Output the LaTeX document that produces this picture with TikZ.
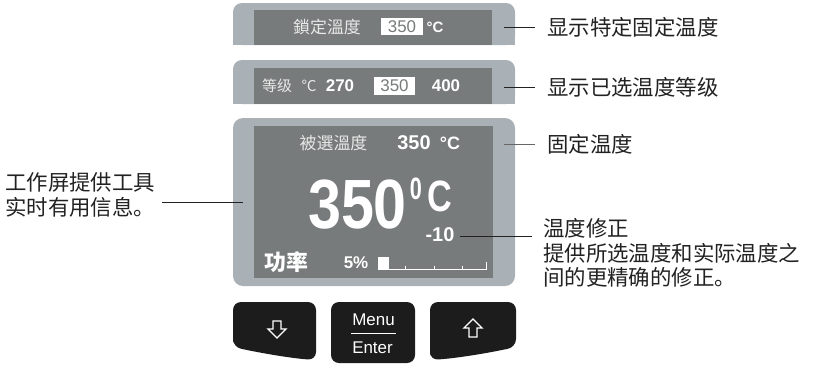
\documentclass[tikz,border=0pt]{standalone}
\usepackage{fontspec}
\setmainfont{Liberation Sans}
\newfontfamily\cjk{Noto Sans CJK SC}
\newfontfamily\arial{Liberation Sans}
\definecolor{outerc}{HTML}{A9B0B6}
\definecolor{innerc}{HTML}{787B7B}
\definecolor{btnc}{HTML}{1C1C1C}
\definecolor{lcdtxt}{HTML}{E8E8E8}
\definecolor{inkc}{HTML}{222222}
\begin{document}
\begin{tikzpicture}[x=1bp,y=-1bp,
  callout/.style={font=\cjk\fontsize{21.5}{24.5}\selectfont, text=inkc, inner sep=0pt, align=left},
  lead/.style={draw=inkc, line width=0.9bp},
  lcdcjk/.style={text=lcdtxt, inner sep=0pt},
  lcdnum/.style={text=white, inner sep=0pt},
  selbox/.style={fill=white, text=innerc, inner sep=0pt, font=\arial\fontsize{17}{17}\selectfont},
  btnlabel/.style={text=white, inner sep=0pt, font=\arial\fontsize{17}{17}\selectfont},
  arrowglyph/.style={draw=white, line width=1.3bp, line join=miter}]
\useasboundingbox (0,0) rectangle (816,364);

% ---- panel 1
\fill[outerc, rounded corners=9bp] (233,3) rectangle (515,45);
\fill[outerc] (233,25) rectangle (515,45);
\fill[innerc] (254,10) rectangle (492,45);
\node[lcdcjk, font=\cjk\fontsize{17}{17}\selectfont] (p1a) at (327,27) {鎖定溫度};
\node[selbox, minimum width=42bp, minimum height=17bp] (p1b) at (402,26.5) {350};
\node[lcdnum, font=\arial\bfseries\fontsize{15}{15}\selectfont] (p1c) at (435,27) {°C};

% ---- panel 2
\fill[outerc, rounded corners=9bp] (233,60) rectangle (515,104);
\fill[outerc] (233,82) rectangle (515,104);
\fill[innerc] (254,68) rectangle (492,104);
\node[lcdcjk, font=\cjk\fontsize{15}{15}\selectfont] (p2a) at (277,86) {等级};
\node[lcdcjk, font=\cjk\fontsize{15}{15}\selectfont] (p2b) at (309,86) {℃};
\node[lcdnum, font=\arial\bfseries\fontsize{17}{17}\selectfont] (p2c) at (340,86) {270};
\node[selbox, minimum width=41bp, minimum height=18bp] (p2d) at (394.5,86) {350};
\node[lcdnum, font=\arial\bfseries\fontsize{17}{17}\selectfont] (p2e) at (446,86) {400};

% ---- panel 3
\fill[outerc, rounded corners=10bp] (233,118) rectangle (515,286);
\fill[innerc] (254,126) rectangle (493,278);
\node[lcdcjk, font=\cjk\fontsize{17}{17}\selectfont] (p3a) at (333.5,143) {被選溫度};
\node[lcdnum, font=\arial\bfseries\fontsize{20}{20}\selectfont] (p3b) at (414,143) {350};
\node[lcdnum, font=\arial\bfseries\fontsize{18}{18}\selectfont] (p3c) at (450,143) {°C};
\node[lcdnum, font=\arial\bfseries\fontsize{70}{70}\selectfont] (big) at (357.5,205) {\scalebox{0.85}[1]{350}};
\node[lcdnum, font=\arial\bfseries\fontsize{31}{31}\selectfont] (deg) at (416,189) {\scalebox{0.7}[1]{0}};
\node[lcdnum, font=\arial\bfseries\fontsize{44}{44}\selectfont] (cel) at (439.5,196) {\scalebox{0.78}[1]{C}};
\node[lcdnum, font=\arial\bfseries\fontsize{20}{20}\selectfont] (corr) at (440,235) {-10};
\node[lcdnum, font=\cjk\bfseries\fontsize{22}{22}\selectfont] (pw) at (286,262) {功率};
\node[lcdnum, font=\arial\bfseries\fontsize{17}{17}\selectfont] (pct) at (356,263) {5\%};
\fill[white] (378,257) rectangle (389,270);
\draw[white, line width=1bp] (389,269.5) -- (487,269.5);
\foreach \tx in {405,434,462} \draw[white, line width=1bp] (\tx,266) -- (\tx,269.5);
\draw[white, line width=1bp] (486.5,262) -- (486.5,270);

% ---- buttons
\fill[btnc, rounded corners=8bp] (233,347) -- (233,302) -- (316,302) -- (316,360) .. controls (288,358) and (256,352) .. (233,347) -- cycle;
\fill[btnc, rounded corners=8bp] (331,302) rectangle (415,363);
\fill[btnc, rounded corners=8bp] (430,360) -- (430,302) -- (516,302) -- (516,347) .. controls (493,352) and (460,358) .. (430,360) -- cycle;
\draw[arrowglyph] (273,321) -- (281,321) -- (281,329) -- (286,329) -- (277,338) -- (268,329) -- (273,329) -- cycle;
\draw[arrowglyph] (469,337) -- (477,337) -- (477,328) -- (482,328) -- (473,319) -- (464,328) -- (469,328) -- cycle;
\node[btnlabel] (menu) at (373.5,320) {Menu};
\node[btnlabel] (enter) at (372.5,348) {Enter};
\draw[white, line width=1bp] (351,333) -- (396,333);

% ---- callouts
\node[callout, anchor=west] (c1) at (547,27) {显示特定固定温度};
\node[callout, anchor=west] (c2) at (547,87) {显示已选温度等级};
\node[callout, anchor=west] (c3) at (547,144) {固定温度};
\node[callout, anchor=west] (c4) at (543,253) {温度修正\\提供所选温度和实际温度之\\间的更精确的修正。};
\node[callout, anchor=west] (c5) at (5,195) {工作屏提供工具\\实时有用信息。};

\coordinate (a1) at (504,27);
\coordinate (a2) at (504,87);
\coordinate (a3) at (504,144);
\coordinate (a4) at (460,236);
\coordinate (b4) at (532,236);
\coordinate (a5) at (162,202);
\coordinate (b5) at (243,202);
\draw[lead] (a1) -- ([xshift=-12bp]c1.west);
\draw[lead] (a2) -- ([xshift=-12bp]c2.west);
\draw[lead, draw=black!60] (a3) -- ([xshift=-12bp]c3.west);
\draw[lead] (a4) -- (b4);
\draw[lead] (a5) -- (b5);
\end{tikzpicture}
\end{document}
